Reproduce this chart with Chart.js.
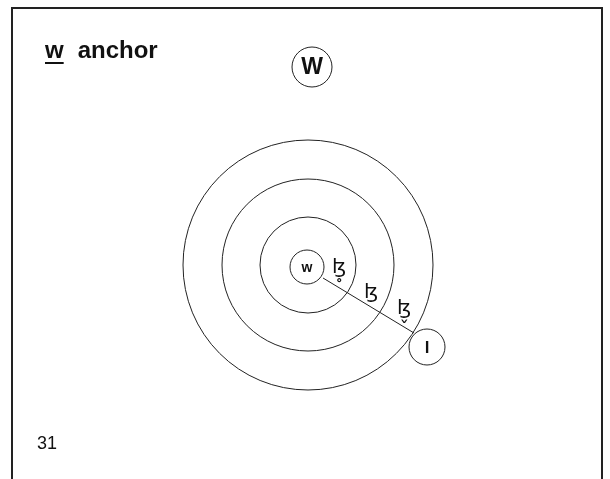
<!DOCTYPE html>
<html>
<head>
<meta charset="utf-8">
<script src="https://cdn.jsdelivr.net/npm/chart.js@4/dist/chart.umd.min.js"></script>
<style>
  body { margin: 0; background: #fff; }
  #slide { position: relative; width: 610px; height: 479px; overflow: hidden; }
  #frame { position: absolute; left: 11px; top: 7px; width: 588px; height: 480px;
           border-top: 2px solid #222; border-left: 2px solid #222; border-right: 2px solid #222; }
  #heading { position: absolute; left: 45px; top: 36px; font: bold 24px "Liberation Sans", Arial, sans-serif; color: #111; }
  #heading u { text-decoration-thickness: 2px; text-underline-offset: 4px; }
  #heading span { margin-left: 14px; }
  #pageno { position: absolute; left: 37px; top: 433px; font: 18px "Liberation Sans", Arial, sans-serif; color: #111; }
  #chart { position: absolute; left: 0; top: 0; }
</style>
</head>
<body>
<div id="slide">
  <div id="frame"></div>
  <canvas id="chart" width="610" height="479"></canvas>
  <div id="heading"><u>w</u><span>anchor</span></div>
  <div id="pageno">31</div>
</div>
<script>
// concentric rings round the anchor
const ringCenter = { x: 308, y: 265 };
const ringRadii = [48, 86, 125];

// labelled nodes
const nodeLabels = ['W', 'w', 'l'];
const nodeX = [312, 307, 427];
const nodeY = [67, 267, 347];
const nodeR = [20, 17, 18];

// link between w and l
const linkX = [323, 414];
const linkY = [278, 333];

// the three lezh symbols along the link
const ipaLabels = ['ɮ̥', 'ɮ', 'ɮ̬'];
const ipaX = [339, 371, 404];
const ipaY = [268, 293, 309];

const nodeFonts = ['bold 23px "Liberation Sans", Arial, sans-serif',
                   'bold 14px "Liberation Sans", Arial, sans-serif',
                   'bold 17px "Liberation Sans", Arial, sans-serif'];

const labelPlugin = {
  id: 'labels',
  afterDatasetsDraw(chart) {
    const ctx = chart.ctx, xs = chart.scales.x, ys = chart.scales.y;
    ctx.save();
    ctx.fillStyle = '#111';
    ctx.textAlign = 'center';
    ctx.textBaseline = 'middle';
    nodeLabels.forEach((t, i) => {
      ctx.font = nodeFonts[i];
      ctx.fillText(t, xs.getPixelForValue(nodeX[i]), ys.getPixelForValue(nodeY[i]) + 1);
    });
    ctx.font = '20px "DejaVu Sans", "Liberation Sans", sans-serif';
    ipaLabels.forEach((t, i) => {
      ctx.fillText(t, xs.getPixelForValue(ipaX[i]), ys.getPixelForValue(ipaY[i]));
    });
    ctx.restore();
  }
};

new Chart(document.getElementById('chart'), {
  type: 'bubble',
  data: {
    datasets: [
      {
        label: 'rings',
        data: ringRadii.map(r => ({ x: ringCenter.x, y: ringCenter.y, r: r })),
        backgroundColor: 'rgba(0,0,0,0)',
        borderColor: '#222',
        borderWidth: 1,
        clip: false
      },
      {
        label: 'nodes',
        data: nodeLabels.map((t, i) => ({ x: nodeX[i], y: nodeY[i], r: nodeR[i] })),
        backgroundColor: 'rgba(0,0,0,0)',
        borderColor: '#222',
        borderWidth: 1,
        clip: false
      },
      {
        type: 'line',
        label: 'link',
        data: linkX.map((x, i) => ({ x: x, y: linkY[i] })),
        borderColor: '#222',
        borderWidth: 1,
        pointRadius: 0,
        fill: false
      }
    ]
  },
  options: {
    responsive: false,
    animation: false,
    events: [],
    layout: { padding: 0, autoPadding: false },
    plugins: { legend: { display: false }, tooltip: { enabled: false } },
    scales: {
      x: { type: 'linear', min: 0, max: 610, display: false },
      y: { type: 'linear', min: 0, max: 479, reverse: true, display: false }
    }
  },
  plugins: [labelPlugin]
});
</script>
</body>
</html>
